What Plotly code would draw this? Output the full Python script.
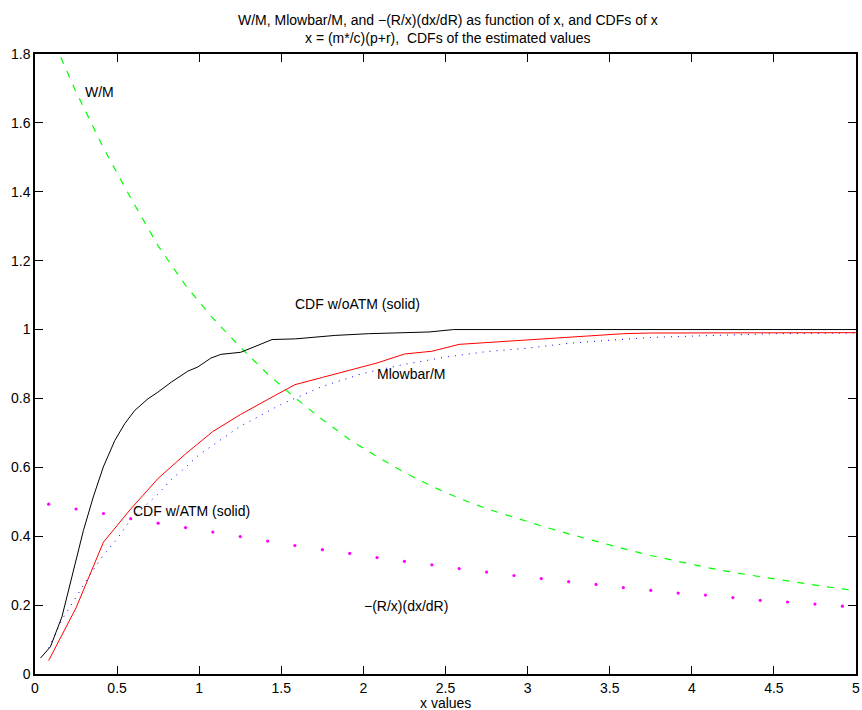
import plotly.graph_objects as go

# common x grid (bin centres) used by the sampled curves
x_grid = [0.083, 0.25, 0.417, 0.583, 0.75, 0.917, 1.083, 1.25, 1.417, 1.583,
          1.75, 1.917, 2.083, 2.25, 2.417, 2.583, 2.75, 2.917, 3.083, 3.25,
          3.417, 3.583, 3.75, 3.917, 4.083, 4.25, 4.417, 4.583, 4.75, 4.917]

# W/M (green dashed)
wm_x = x_grid + [5.0]
wm_y = [1.87, 1.69, 1.527, 1.382, 1.243, 1.128, 1.033, 0.949, 0.871, 0.802,
        0.739, 0.680, 0.631, 0.585, 0.545, 0.510, 0.480, 0.454, 0.430, 0.407,
        0.385, 0.364, 0.344, 0.326, 0.310, 0.295, 0.282, 0.270, 0.258, 0.247,
        0.242]

# -(R/x)(dx/dR) (magenta points)
elas_y = [0.493, 0.479, 0.466, 0.451, 0.438, 0.425, 0.412, 0.399, 0.386, 0.373,
          0.361, 0.350, 0.338, 0.327, 0.317, 0.306, 0.296, 0.286, 0.277, 0.268,
          0.260, 0.251, 0.243, 0.235, 0.229, 0.222, 0.214, 0.209, 0.203, 0.197]

# CDF with ATM (red solid)
cdf_atm_x = x_grid + [5.0]
cdf_atm_y = [0.039, 0.192, 0.383, 0.479, 0.568, 0.639, 0.704, 0.753, 0.797, 0.840,
             0.861, 0.882, 0.903, 0.929, 0.937, 0.957, 0.962, 0.968, 0.972, 0.977,
             0.984, 0.988, 0.990, 0.990, 0.991, 0.991, 0.991, 0.991, 0.991, 0.991,
             0.991]

# CDF without ATM (black solid)
cdf_noatm_x = [0.033, 0.094, 0.164, 0.224, 0.295, 0.355, 0.416, 0.486, 0.547, 0.607,
               0.688, 0.748, 0.829, 0.930, 0.990, 1.071, 1.132, 1.253, 1.444, 1.586,
               1.828, 2.03, 2.230, 2.40, 2.55, 5.0]
cdf_noatm_y = [0.046, 0.079, 0.166, 0.282, 0.417, 0.514, 0.601, 0.678, 0.727, 0.765,
               0.799, 0.818, 0.847, 0.879, 0.891, 0.917, 0.928, 0.934, 0.971, 0.973,
               0.983, 0.988, 0.991, 0.993, 1.0, 1.0]

# Mlowbar/M (blue dotted)
mlow_x = [0.083, 0.167, 0.25, 0.333, 0.417, 0.5, 0.583, 0.667, 0.75, 0.833,
          0.917, 1.0, 1.25, 1.5, 1.75, 2.0, 2.25, 2.5, 2.75, 3.0,
          3.25, 3.5, 3.75, 4.0, 4.25, 4.5, 4.75, 5.0]
mlow_y = [0.075, 0.160, 0.223, 0.287, 0.346, 0.392, 0.449, 0.487, 0.523, 0.566,
          0.600, 0.637, 0.719, 0.783, 0.835, 0.873, 0.899, 0.920, 0.936, 0.946,
          0.960, 0.969, 0.977, 0.981, 0.985, 0.988, 0.989, 0.990]

x_ticks = [0, 0.5, 1, 1.5, 2, 2.5, 3, 3.5, 4, 4.5, 5]
x_tick_text = ["0", "0.5", "1", "1.5", "2", "2.5", "3", "3.5", "4", "4.5", "5"]
y_ticks = [0, 0.2, 0.4, 0.6, 0.8, 1.0, 1.2, 1.4, 1.6, 1.8]
y_tick_text = ["0", "0.2", "0.4", "0.6", "0.8", "1", "1.2", "1.4", "1.6", "1.8"]

title_lines = [
    "W/M, Mlowbar/M, and \u2212(R/x)(dx/dR) as function of x, and CDFs of x",
    "x = (m*/c)(p+r), \u00a0CDFs of the estimated values",
]

labels = [
    ("W/M", 0.30, 1.69),
    ("CDF w/oATM (solid)", 1.575, 1.073),
    ("Mlowbar/M", 2.079, 0.872),
    ("CDF w/ATM (solid)", 0.591, 0.474),
    ("\u2212(R/x)(dx/dR)", 1.996, 0.198),
]

FONT = "Liberation Sans, Arial, Helvetica, sans-serif"

fig = go.Figure()
fig.add_trace(go.Scatter(x=wm_x, y=wm_y, mode="lines",
                         line=dict(color="#00ff00", width=1.2, dash="7px,8px")))
fig.add_trace(go.Scatter(x=mlow_x, y=mlow_y, mode="lines",
                         line=dict(color="#0000ff", width=1, dash="1px,6px")))
fig.add_trace(go.Scatter(x=cdf_atm_x, y=cdf_atm_y, mode="lines",
                         line=dict(color="#ff0000", width=1)))
fig.add_trace(go.Scatter(x=cdf_noatm_x, y=cdf_noatm_y, mode="lines",
                         line=dict(color="#000000", width=1)))
fig.add_trace(go.Scatter(x=x_grid, y=elas_y, mode="markers",
                         marker=dict(color="#ff00ff", size=3.2, symbol="circle")))

text_font = dict(family=FONT, size=14, color="black")

annotations = [
    dict(x=lx, y=ly, xref="x", yref="y", text=t, showarrow=False,
         xanchor="left", yanchor="middle", borderpad=0, font=text_font)
    for t, lx, ly in labels
]
# two-line title above the axes
for line, shift in zip(title_lines, (34, 16)):
    annotations.append(dict(x=0.5, y=1, xref="paper", yref="paper", text=line,
                            showarrow=False, xanchor="center", yanchor="middle",
                            xshift=2, yshift=shift, font=text_font))
# x-axis label
annotations.append(dict(x=0.5, y=0, xref="paper", yref="paper", text="x values",
                        showarrow=False, xanchor="center", yanchor="middle",
                        yshift=-29, font=text_font))

fig.update_layout(
    width=862, height=710,
    margin=dict(l=35, r=2, t=54, b=36),
    paper_bgcolor="white", plot_bgcolor="white",
    showlegend=False, hovermode=False,
    font=dict(family=FONT, size=14, color="black"),
    annotations=annotations,
)
fig.update_xaxes(range=[0, 5], tickvals=x_ticks, ticktext=x_tick_text,
                 showgrid=False, zeroline=False, showline=True, linecolor="black",
                 linewidth=1.5, mirror="ticks", ticks="inside", ticklen=8,
                 tickcolor="black", tickfont=dict(family=FONT, size=14),
                 ticklabeloverflow="allow")
fig.update_yaxes(range=[0, 1.8], tickvals=y_ticks, ticktext=y_tick_text,
                 showgrid=False, zeroline=False, showline=True, linecolor="black",
                 linewidth=1.5, mirror="ticks", ticks="inside", ticklen=8,
                 tickcolor="black", tickfont=dict(family=FONT, size=14),
                 ticklabeloverflow="allow")

fig.write_html("out.html")
